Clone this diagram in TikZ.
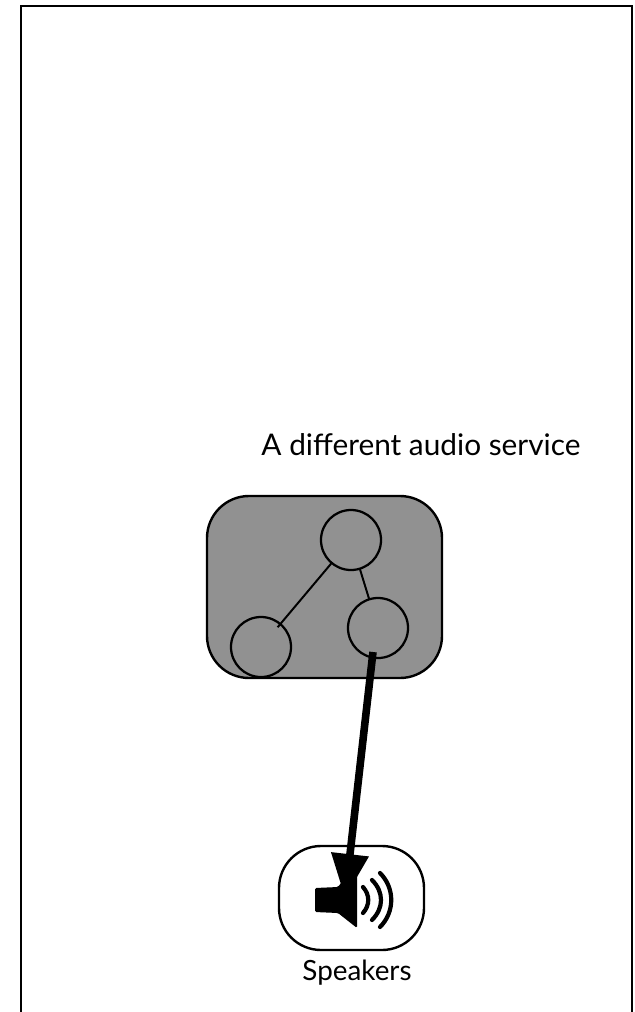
\documentclass[tikz,border=0pt]{standalone}
\usepackage{fontspec}
\setmainfont{Lato}
\usetikzlibrary{arrows.meta}

\begin{document}
\begin{tikzpicture}[x=0.025cm, y=-0.025cm,
  every node/.style={inner sep=0pt, outer sep=0pt},
  outline/.style={line width=1.7pt},
  procnode/.style={draw, circle, line width=1.6pt, minimum size=1.5cm},
  wave/.style={line width=3pt, line cap=round}]
  \useasboundingbox (0, 0) rectangle (634, 1012);

  \coordinate (S) at (373, 652);
  \coordinate (T) at (345, 898);

  % frame, open at the bottom
  \draw[line width=2.1pt] (21, 1012) -- (21, 6) -- (632, 6) -- (632, 1012);

  \node[font=\fontsize{21.2}{25}\selectfont] (title) at (421, 445) {A different audio service};

  % service
  \draw[outline, fill=black!43, rounded corners=1.05cm] (207, 496) rectangle (442, 678);
  \node[procnode] (top) at (351, 540) {};
  \node[procnode] (right) at (378, 628) {};
  \node[procnode] (left) at (261, 647) {};
  \draw[line width=1.4pt, shorten >=-3pt] (top) -- (left);
  \draw[line width=1.4pt] (top) -- (right);

  % speakers
  \draw[outline, rounded corners=1.05cm] (279, 846) rectangle (424, 950);
  \fill[rounded corners=1pt] (315, 888) -- (338, 887) -- (357, 862) -- (357, 928) -- (338, 913) -- (315, 912) -- cycle;
  \draw[wave] (363, 887) .. controls (370, 895) and (370, 905) .. (363, 913);
  \draw[wave] (372, 880) .. controls (384, 892) and (384, 908) .. (372, 920);
  \draw[wave] (380, 873) .. controls (395, 888) and (395, 912) .. (380, 927);
  \node[font=\fontsize{19.8}{23}\selectfont] (speakers) at (357, 973) {Speakers};

  \draw[line width=5.4pt, -{Triangle[length=1.1cm, width=0.9cm]}] (S) -- (T);
\end{tikzpicture}
\end{document}
